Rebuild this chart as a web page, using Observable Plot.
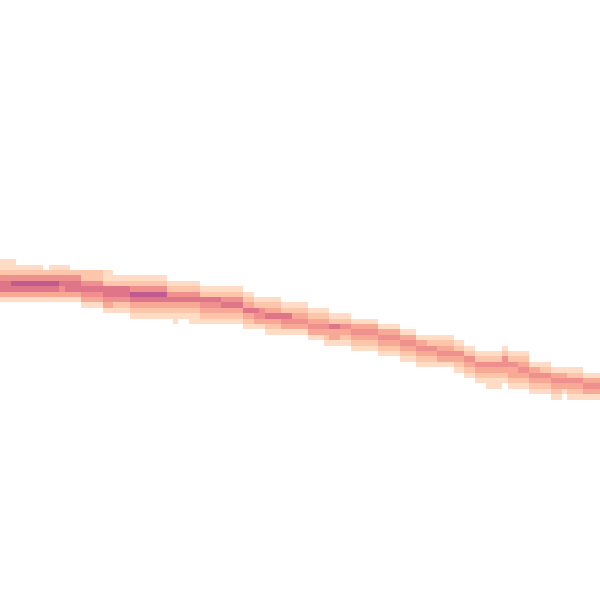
<!DOCTYPE html>
<html>
<head>
<meta charset="utf-8">
<script src="https://cdn.jsdelivr.net/npm/d3@7"></script>
<script src="https://cdn.jsdelivr.net/npm/@observablehq/plot@0.6"></script>
<style>
  html, body { margin: 0; padding: 0; background: #fff; }
  #chart svg { display: block; }
</style>
</head>
<body>
<div id="chart"></div>
<script>
// Density band: each run covers columns from runStart
// up to the next runStart; runTop is the first row; runLevels are the density
// levels (1 = lightest … 6 = densest) of consecutive rows downward.
const runStart = [0, 2, 3, 8, 9, 11, 12, 13, 15, 19, 21, 24, 31, 32, 33, 35, 37, 41, 45, 47, 48, 49, 52, 54, 57, 60, 61, 63, 65, 67, 70, 72, 74, 77, 79, 81, 84, 86, 88, 90, 93, 94, 96, 98, 100, 102, 104, 105, 108];
const runTop = [48, 48, 49, 50, 49, 49, 49, 50, 50, 50, 51, 51, 52, 52, 52, 52, 53, 53, 54, 55, 55, 55, 56, 56, 57, 57, 58, 58, 59, 59, 60, 60, 61, 62, 62, 62, 63, 64, 65, 65, 64, 65, 65, 67, 67, 68, 68, 68, 69];
const runLevels = ["11245531", "11246531", "1246531", "246531", "1246531", "1245431", "1245531", "245531", "2245431", "11255431", "1255421", "12465321", "1245321", "12453211", "1245321", "12453211", "1254321", "1245321", "1235321", "125431", "124431", "1235321", "125431", "123431", "123431", "1234321", "125331", "124321", "134321", "134321", "134321", "134321", "134321", "134321", "124321", "123431", "124321", "124321", "124321", "1243211", "1244321", "1243321", "1234321", "134321", "124321", "134321", "13431", "124321", "13431"];
const lastColumn = 112;
const levelDomain = [1, 2, 3, 4, 5, 6];
const levelColors = ["#fedcc5", "#fdc5aa", "#f8a996", "#ef8f8e", "#de7589", "#c05b8f"];
const gridSize = 600 / 5.4;

const cells = [];
runStart.forEach((start, k) => {
  const end = k + 1 < runStart.length ? runStart[k + 1] : lastColumn;
  for (let col = start; col < end; col++) {
    [...runLevels[k]].forEach((ch, j) => {
      cells.push({col, row: runTop[k] + j, level: +ch});
    });
  }
});

const chart = Plot.plot({
  width: 600,
  height: 600,
  margin: 0,
  x: {domain: [0, gridSize], axis: null},
  y: {domain: [0, gridSize], range: [0, 600], axis: null},
  color: {type: "ordinal", domain: levelDomain, range: levelColors},
  marks: [
    Plot.rect(cells, {
      x1: "col",
      x2: d => d.col + 1,
      y1: "row",
      y2: d => d.row + 1,
      fill: "level",
      shapeRendering: "crispEdges"
    })
  ]
});
document.getElementById("chart").appendChild(chart);
</script>
</body>
</html>
